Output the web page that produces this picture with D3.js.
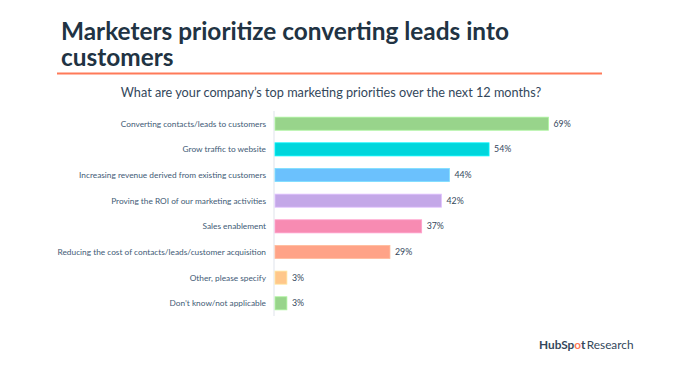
<!DOCTYPE html>
<html>
<head>
<meta charset="utf-8">
<script src="https://cdn.jsdelivr.net/npm/d3@7"></script>
<style>
  body { margin: 0; background: #fff; }
  svg { display: block; font-family: Lato, "Open Sans", sans-serif; }
</style>
</head>
<body>
<svg id="chart" width="694" height="365"></svg>
<script>
// chart data
const categories = [
  "Converting contacts/leads to customers",
  "Grow traffic to website",
  "Increasing revenue derived from existing customers",
  "Proving the ROI of our marketing activities",
  "Sales enablement",
  "Reducing the cost of contacts/leads/customer acquisition",
  "Other, please specify",
  "Don\u2019t know/not applicable"
];
const values = [69, 54, 44, 42, 37, 29, 3, 3];
const colors = ["#98d48b", "#00d6dc", "#6bc1fd", "#c4a8e8", "#f78bb2", "#ffa387", "#ffc78a", "#98d48b"];

const svg = d3.select("#chart");

// title, two lines
svg.append("text")
  .attr("x", 61).attr("y", 40)
  .attr("fill", "#213343")
  .style("font-size", "24.4px")
  .style("font-weight", "bold")
  .text("Marketers prioritize converting leads into");
svg.append("text")
  .attr("x", 61).attr("y", 65.5)
  .attr("fill", "#213343")
  .style("font-size", "24.4px")
  .style("font-weight", "bold")
  .text("customers");

svg.append("line")
  .attr("x1", 57).attr("x2", 602)
  .attr("y1", 73.5).attr("y2", 73.5)
  .attr("stroke", "#ff7a59")
  .attr("stroke-width", 2);

svg.append("text")
  .attr("x", 331).attr("y", 96.5)
  .attr("text-anchor", "middle")
  .attr("fill", "#33475b")
  .style("font-size", "12.7px")
  .text("What are your company\u2019s top marketing priorities over the next 12 months?");

// scales
const x = d3.scaleLinear().domain([0, 69]).range([275, 548.5]);
const y = d3.scaleBand().domain(categories).range([111, 316]).paddingInner(0.49).paddingOuter(0.24);

svg.append("line")
  .attr("x1", 274).attr("x2", 274)
  .attr("y1", 111).attr("y2", 316)
  .attr("stroke", "#dfe3eb")
  .attr("stroke-width", 1);

const rows = svg.append("g")
  .selectAll("g")
  .data(categories)
  .join("g");

rows.append("rect")
  .attr("x", x(0))
  .attr("y", d => y(d))
  .attr("width", (d, i) => x(values[i]) - x(0))
  .attr("height", y.bandwidth())
  .attr("fill", (d, i) => colors[i])
  .attr("stroke", (d, i) => d3.color(colors[i]).brighter(0.4))
  .attr("stroke-width", 0.8);

rows.append("text")
  .attr("x", 266)
  .attr("y", d => y(d) + y.bandwidth() / 2)
  .attr("dy", "0.35em")
  .attr("text-anchor", "end")
  .attr("fill", "#425b76")
  .style("font-size", "8.3px")
  .text(d => d);

rows.append("text")
  .attr("x", (d, i) => x(values[i]) + 5)
  .attr("y", d => y(d) + y.bandwidth() / 2)
  .attr("dy", "0.35em")
  .attr("fill", "#33475b")
  .style("font-size", "8.8px")
  .text((d, i) => values[i] + "%");

// logo
const logo = svg.append("text")
  .attr("x", 539).attr("y", 349)
  .style("font-size", "11.8px")
  .attr("fill", "#33475b");
logo.append("tspan").style("font-weight", "bold").text("HubSp");
logo.append("tspan").style("font-weight", "bold").attr("fill", "#ff7a59").text("o");
logo.append("tspan").style("font-weight", "bold").text("t");
logo.append("tspan").attr("dx", 1.5).text("Research");
</script>
</body>
</html>
